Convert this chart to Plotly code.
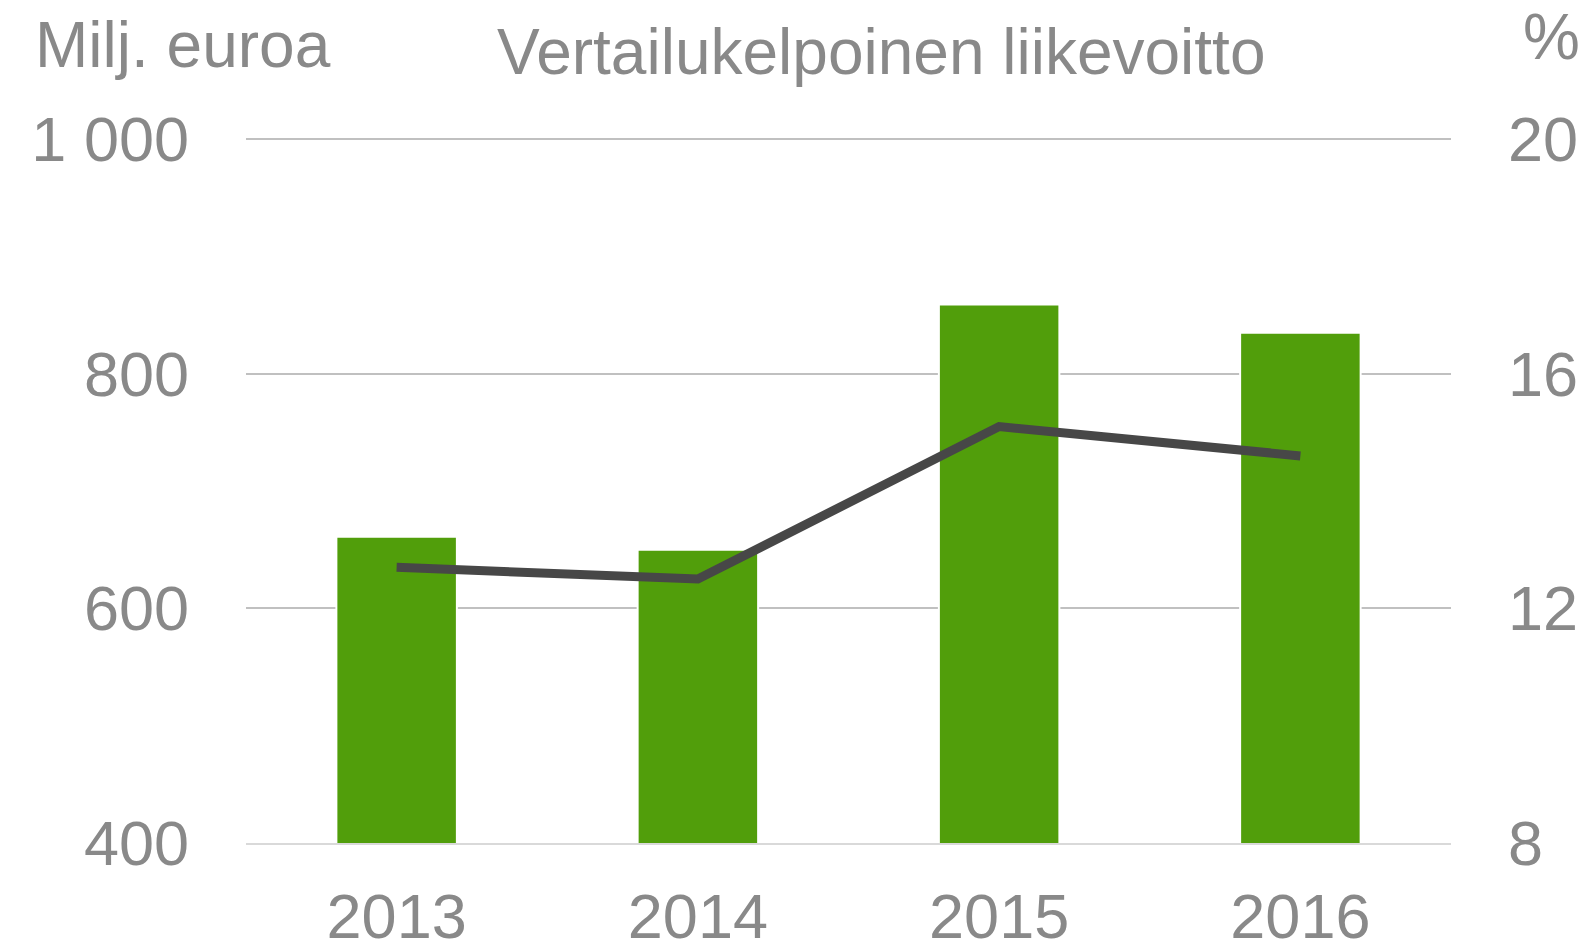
import plotly.graph_objects as go

years = ["2013", "2014", "2015", "2016"]
profit_meur = [661, 650, 859, 835]
margin_pct = [12.7, 12.5, 15.1, 14.6]
left_ticks = [400, 600, 800, 1000]
left_ticktext = ["400", "600", "800", "1 000"]
right_ticks = [8, 12, 16, 20]

FONT = "Liberation Sans, Arial, sans-serif"
GREY = "#898989"
SIZE = 63
ASIZE = 64

fig = go.Figure()
fig.add_trace(go.Bar(
    x=years, y=profit_meur, width=0.4,
    marker=dict(color="#519E0B", line=dict(color="white", width=2)),
    yaxis="y", showlegend=False,
))
fig.add_trace(go.Scatter(
    x=years, y=margin_pct, mode="lines",
    line=dict(color="#474747", width=9),
    yaxis="y2", showlegend=False,
))

fig.update_layout(
    template="none",
    width=1589, height=950,
    margin=dict(l=246, r=138, t=138.3, b=106.5, pad=0),
    plot_bgcolor="white", paper_bgcolor="white",
    font=dict(family=FONT, size=SIZE, color=GREY),
    xaxis=dict(
        type="category", tickangle=0,
        showgrid=False, showline=True, linecolor="#d9d9d9", linewidth=2,
        ticks="", tickfont=dict(size=SIZE, color=GREY),
        ticklabelstandoff=17, automargin=False,
    ),
    yaxis=dict(
        range=[400, 1001], tickvals=left_ticks, ticktext=left_ticktext,
        showgrid=True, gridcolor="#c0c0c0", gridwidth=2,
        zeroline=False, showline=False, ticks="",
        tickfont=dict(size=SIZE, color=GREY), ticklabelstandoff=56,
        automargin=False,
    ),
    yaxis2=dict(
        range=[8, 20.02], tickvals=right_ticks, overlaying="y", side="right",
        showgrid=False, zeroline=False, showline=False, ticks="",
        tickfont=dict(size=SIZE, color=GREY), ticklabelstandoff=56,
        automargin=False,
    ),
    annotations=[
        dict(text="Milj. euroa", xref="paper", yref="paper", x=-0.1764, y=1.132,
             xanchor="left", yanchor="middle", showarrow=False,
             font=dict(size=ASIZE, color=GREY, family=FONT)),
        dict(text="Vertailukelpoinen liikevoitto", xref="paper", yref="paper", x=0.527, y=1.122,
             xanchor="center", yanchor="middle", showarrow=False,
             font=dict(size=ASIZE, color=GREY, family=FONT)),
        dict(text="%", xref="paper", yref="paper", x=1.1087, y=1.1435,
             xanchor="right", yanchor="middle", showarrow=False,
             font=dict(size=ASIZE, color=GREY, family=FONT)),
    ],
)

fig.write_html(
    "out.html",
    config={"displayModeBar": False},
    post_script="document.body.style.margin='0';document.body.style.overflow='hidden';",
)
